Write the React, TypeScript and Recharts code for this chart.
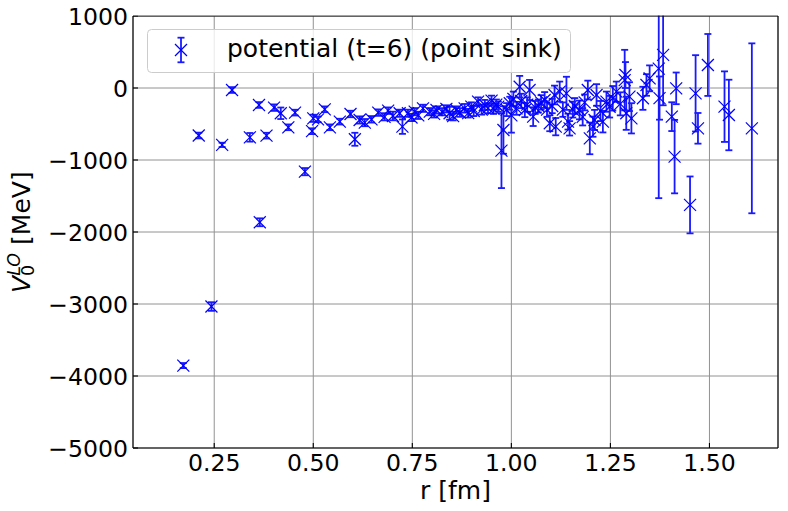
import React from 'react';
import { ScatterChart, Scatter, XAxis, YAxis, CartesianGrid, ErrorBar, ReferenceLine } from 'recharts';

const FONT = '"DejaVu Sans", "Liberation Sans", sans-serif';
const BLUE = '#0000ff';

const seriesName = 'potential (t=6) (point sink)';
const xLabel = 'r [fm]';

const rValues = [
  0.172, 0.211, 0.243, 0.270, 0.295, 0.340, 0.363, 0.365, 0.382, 0.401,
  0.418, 0.437, 0.454, 0.479, 0.497, 0.500, 0.512, 0.529, 0.542, 0.567,
  0.594, 0.605, 0.617, 0.630, 0.647, 0.664, 0.680, 0.689, 0.701, 0.718,
  0.725, 0.739, 0.748, 0.756, 0.765, 0.777, 0.794, 0.805, 0.811, 0.825,
  0.836, 0.844, 0.853, 0.861, 0.870, 0.882, 0.891, 0.899, 0.905, 0.916,
  0.925, 0.933, 0.941, 0.950, 0.955, 0.962, 0.967, 0.975, 0.980, 0.988,
  0.996, 1.000, 1.005, 1.013, 1.021, 1.025, 1.034, 1.040, 1.046, 1.055,
  1.060, 1.068, 1.075, 1.084, 1.090, 1.097, 1.103, 1.109, 1.112, 1.122,
  1.130, 1.139, 1.143, 1.147, 1.155, 1.160, 1.172, 1.180, 1.185, 1.193,
  1.198, 1.206, 1.210, 1.215, 1.225, 1.231, 1.240, 1.248, 1.256, 1.265,
  1.275, 1.286, 1.288, 1.290, 1.298, 1.303, 1.332, 1.341, 1.349, 1.372,
  1.374, 1.383, 1.405, 1.412, 1.416, 1.451, 1.465, 1.471, 1.496, 1.538,
  1.549, 1.607,
];

const vValues = [
  -3855, -660, -3035, -790, -28, -685, -236, -1865, -662, -273,
  -351, -546, -342, -1162, -600, -421, -435, -296, -546, -467,
  -361, -712, -444, -481, -435, -342, -400, -315, -389, -351,
  -537, -351, -410, -329, -380, -282, -329, -360, -305, -330,
  -290, -351, -390, -305, -340, -282, -350, -259, -320, -190,
  -300, -236, -280, -176, -290, -230, -259, -870, -583, -300,
  -212, -380, -150, -282, 18, -180, -305, -230, -28, -398,
  -270, -250, -200, -167, -300, -490, -250, -97, -537, -51,
  -300, -74, -467, -560, -300, -250, -305, -400, -200, -28,
  -700, -537, -444, -97, -320, -467, -190, -260, -143, -51,
  -220, 110, 180, -351, -120, -421, -143, 42, 134, 270,
  -140, 460, -398, -953, -5, -1624, -74, -560, 320, -259,
  -375, -560,
];

const errValues = [
  35, 40, 60, 30, 40, 60, 40, 55, 40, 45,
  80, 40, 40, 50, 40, 50, 40, 40, 40, 40,
  45, 90, 50, 50, 45, 45, 50, 45, 60, 50,
  100, 50, 50, 50, 50, 50, 50, 50, 50, 50,
  50, 90, 60, 50, 60, 60, 60, 60, 70, 60,
  70, 70, 70, 70, 70, 70, 70, 520, 330, 90,
  90, 240, 100, 90, 150, 100, 100, 100, 140, 130,
  90, 90, 100, 110, 100, 110, 100, 130, 120, 140,
  100, 230, 110, 100, 110, 110, 130, 120, 110, 130,
  220, 140, 140, 150, 140, 150, 140, 150, 170, 140,
  160, 420, 180, 230, 200, 210, 160, 150, 180, 1800,
  300, 700, 200, 510, 220, 395, 530, 213, 430, 490,
  490, 1180,
];

const xTicks = [0.25, 0.5, 0.75, 1.0, 1.25, 1.5];
const yTicks = [1000, 0, -1000, -2000, -3000, -4000, -5000];
const xDomain: [number, number] = [0.045, 1.673];
const yDomain: [number, number] = [-5000, 1000];

const data = rValues.map((r, i) => ({ r, v: vValues[i], err: errValues[i] }));

const XMark = (props: any) => {
  const { cx, cy } = props;
  if (cx == null || cy == null) return null;
  const s = 6;
  return (
    <g>
      <line x1={cx - s} y1={cy - s} x2={cx + s} y2={cy + s} stroke={BLUE} strokeWidth={1.2} />
      <line x1={cx - s} y1={cy + s} x2={cx + s} y2={cy - s} stroke={BLUE} strokeWidth={1.2} />
    </g>
  );
};

const fmtY = (v: number) => (v < 0 ? '\u2212' + Math.abs(v) : String(v));

const YTick = (props: any) => {
  const { x, y, payload } = props;
  return (
    <g>
      <line x1={x + 5} x2={x + 10} y1={y} y2={y} stroke="#000" strokeWidth={1.1} />
      <text x={x} y={y} dy={8.5} textAnchor="end" fontFamily={FONT} fontSize={23.6} fill="#000">
        {fmtY(payload.value)}
      </text>
    </g>
  );
};

const XTick = (props: any) => {
  const { x, y, payload } = props;
  return (
    <g>
      <line x1={x} x2={x} y1={y - 5} y2={y - 10} stroke="#000" strokeWidth={1.1} />
      <text x={x} y={y} dy={18} textAnchor="middle" fontFamily={FONT} fontSize={23.6} fill="#000">
        {Number(payload.value).toFixed(2)}
      </text>
    </g>
  );
};

export default function App() {
  return (
    <div style={{ position: 'absolute', left: 0, top: 0, width: 788, height: 511, background: '#fff' }}>
      <ScatterChart width={788} height={511} margin={{ top: 16, right: 10, left: 0, bottom: 0 }}>
        <CartesianGrid stroke="#929292" strokeWidth={1} />
        <XAxis
          type="number"
          dataKey="r"
          domain={xDomain}
          ticks={xTicks}
          allowDataOverflow
          height={63}
          tickSize={0}
          tickMargin={5}
          tickLine={false}
          axisLine={{ stroke: '#000', strokeWidth: 1.1 }}
          tick={<XTick />}
          interval={0}
        />
        <YAxis
          type="number"
          dataKey="v"
          domain={yDomain}
          ticks={yTicks}
          allowDataOverflow
          width={133}
          tickSize={0}
          tickMargin={5}
          tickLine={false}
          axisLine={{ stroke: '#000', strokeWidth: 1.1 }}
          tick={<YTick />}
          interval={0}
        />
        <Scatter name={seriesName} data={data} shape={<XMark />} isAnimationActive={false}>
          <ErrorBar dataKey="err" direction="y" width={3.5} strokeWidth={1.8} stroke="#1a1aff" />
        </Scatter>
        <ReferenceLine y={1000} stroke="#000" strokeWidth={1.1} />
        <ReferenceLine x={xDomain[1]} stroke="#000" strokeWidth={1.1} />
      </ScatterChart>
      <svg width={788} height={511} style={{ position: 'absolute', left: 0, top: 0, pointerEvents: 'none' }}>
        <rect x={130} y={0} width={658} height={15.4} fill="#ffffff" />
        <rect x={147.5} y={29.5} width={423} height={43} rx={4} ry={4} fill="#ffffff" fillOpacity={0.8} stroke="#cccccc" strokeWidth={1} />
        <line x1={181} x2={181} y1={37.7} y2={62.3} stroke="#1a1aff" strokeWidth={1.8} />
        <line x1={177.5} x2={184.5} y1={37.7} y2={37.7} stroke="#1a1aff" strokeWidth={1.8} />
        <line x1={177.5} x2={184.5} y1={62.3} y2={62.3} stroke="#1a1aff" strokeWidth={1.8} />
        <XMark cx={181} cy={50} />
        <text x={227} y={57} fontFamily={FONT} fontSize={25} fill="#000">{seriesName}</text>
        <text x={455.5} y={499} textAnchor="middle" fontFamily={FONT} fontSize={25} fill="#000">{xLabel}</text>
        <g transform="translate(29.5,232) rotate(-90)">
          <text x={-61} y={0} fontFamily={FONT} fontSize={25} fill="#000">
            <tspan fontStyle="italic">V</tspan>
            <tspan fontSize={17.5} dy={4}>0</tspan>
            <tspan fontSize={17.5} fontStyle="italic" dx={-11.1} dy={-13.5}>LO</tspan>
            <tspan dy={9.5}> [MeV]</tspan>
          </text>
        </g>
      </svg>
    </div>
  );
}
